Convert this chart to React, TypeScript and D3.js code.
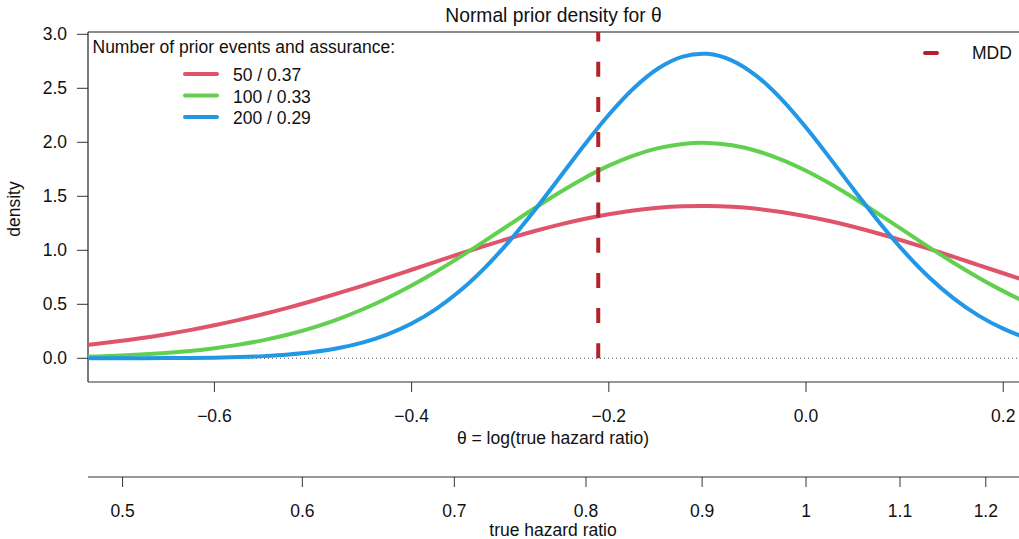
import React, { useEffect } from "react";
import * as d3 from "d3";

// theta grid (log hazard ratio) where densities were read
const thetaGrid = [
  -0.75, -0.725, -0.7, -0.675, -0.65, -0.625, -0.6, -0.575, -0.55, -0.525,
  -0.5, -0.475, -0.45, -0.425, -0.4, -0.375, -0.35, -0.325, -0.3, -0.275,
  -0.25, -0.225, -0.2, -0.175, -0.15, -0.125, -0.1, -0.075, -0.05, -0.025,
  0.0, 0.025, 0.05, 0.075, 0.1, 0.125, 0.15, 0.175, 0.2, 0.225, 0.25,
];

const dens50 = [
  0.105, 0.128, 0.1547, 0.1856, 0.2209, 0.2609, 0.3057, 0.3554, 0.41, 0.4692,
  0.5329, 0.6005, 0.6714, 0.7448, 0.8199, 0.8954, 0.9703, 1.0434, 1.1132, 1.1783,
  1.2376, 1.2898, 1.3337, 1.3684, 1.393, 1.4071, 1.4102, 1.4024, 1.3837, 1.3547,
  1.316, 1.2684, 1.213, 1.151, 1.0837, 1.0124, 0.9384, 0.863, 0.7876, 0.7131, 0.6406,
];

const dens100 = [
  0.01106, 0.01643, 0.024, 0.03454, 0.04893, 0.06823, 0.09368, 0.1266, 0.1685, 0.2208,
  0.2847, 0.3615, 0.4519, 0.5562, 0.6739, 0.8038, 0.944, 1.0914, 1.2423, 1.392,
  1.5357, 1.668, 1.7834, 1.8774, 1.9456, 1.9851, 1.994, 1.9718, 1.9197, 1.84,
  1.7363, 1.613, 1.4752, 1.3283, 1.1774, 1.0275, 0.8828, 0.7468, 0.6218, 0.5098, 0.4115,
];

const dens200 = [
  0.00009, 0.00019, 0.00041, 0.00085, 0.0017, 0.0033, 0.00622, 0.01137, 0.02013, 0.03455,
  0.05747, 0.09267, 0.1448, 0.2193, 0.322, 0.4581, 0.6318, 0.8446, 1.0942, 1.3737,
  1.6721, 1.9725, 2.255, 2.4988, 2.6838, 2.7938, 2.8189, 2.7566, 2.6128, 2.4003,
  2.1373, 1.8445, 1.5428, 1.2508, 0.9829, 0.7486, 0.5526, 0.3953, 0.2742, 0.1843, 0.12,
];

const seriesLabels = ["50 / 0.37", "100 / 0.33", "200 / 0.29"];
const seriesColors = ["#DF536B", "#61D04F", "#2297E6"];
const seriesValues = [dens50, dens100, dens200];

const mddHazardRatio = 0.81;
const thetaTicks = [-0.6, -0.4, -0.2, 0.0, 0.2];
const hrTicks = [0.5, 0.6, 0.7, 0.8, 0.9, 1, 1.1, 1.2];
const densityTicks = [0, 0.5, 1, 1.5, 2, 2.5, 3];

const W = 1019;
const H = 539;
const font = "'Liberation Sans', Arial, Helvetica, sans-serif";
const fs = 17.5;

export default function App() {
  useEffect(() => {
    document.body.style.margin = "0";
    document.body.style.overflow = "hidden";
  }, []);

  const left = 88;
  const top = 32;
  const bottom = 382;
  const right = W;

  const x = d3.scaleLinear().domain([-0.7282, 0.216]).range([left, right]);
  const y = d3.scaleLinear().domain([0, 3]).range([358.3, 34.3]);

  const line = d3
    .line<[number, number]>()
    .x((d) => x(d[0]))
    .y((d) => y(d[1]))
    .curve(d3.curveCatmullRom.alpha(0.5));

  const mddX = x(Math.log(mddHazardRatio));
  const axis2Y = 477;
  const midX = 553;

  return (
    <svg width={W} height={H} style={{ display: "block", background: "#fff" }} fontFamily={font}>
      <defs>
        <clipPath id="plotClip">
          <rect x={left} y={top} width={right - left} height={bottom - top} />
        </clipPath>
      </defs>

      {/* title */}
      <text x={553.5} y={21.7} textAnchor="middle" fontSize={19.3} fill="#111">
        Normal prior density for θ
      </text>

      {/* box lines */}
      <line x1={left} x2={right} y1={top} y2={top} stroke="#666" strokeWidth={1.5} />
      <line x1={left} x2={left} y1={top} y2={bottom} stroke="#222" strokeWidth={1.2} />
      <line x1={left} x2={right} y1={bottom} y2={bottom} stroke="#333" strokeWidth={1.2} />

      {/* y axis */}
      {densityTicks.map((t) => (
        <g key={"yt" + t}>
          <line x1={left - 11} x2={left} y1={y(t)} y2={y(t)} stroke="#333" strokeWidth={1} />
          <text x={67} y={y(t) + 6} textAnchor="end" fontSize={fs} fill="#111">
            {d3.format(".1f")(t)}
          </text>
        </g>
      ))}
      <text
        transform={`translate(20,209) rotate(-90)`}
        textAnchor="middle"
        fontSize={fs}
        fill="#111"
      >
        density
      </text>

      {/* zero reference */}
      <line
        x1={left}
        x2={right}
        y1={y(0)}
        y2={y(0)}
        stroke="#555"
        strokeWidth={1}
        strokeDasharray="1,3"
      />

      {/* curves */}
      <g clipPath="url(#plotClip)">
        {seriesValues.map((vals, i) => (
          <path
            key={seriesLabels[i]}
            d={line(thetaGrid.map((t, j) => [t, vals[j]] as [number, number])) || ""}
            fill="none"
            stroke={seriesColors[i]}
            strokeWidth={4}
            strokeLinejoin="round"
          />
        ))}
        <line
          x1={mddX}
          x2={mddX}
          y1={y(0)}
          y2={top}
          stroke="#B2222B"
          strokeWidth={4}
          strokeDasharray="15,20.2"
        />
      </g>

      {/* theta axis */}
      {thetaTicks.map((t) => (
        <g key={"xt" + t}>
          <line x1={x(t)} x2={x(t)} y1={bottom} y2={bottom + 10} stroke="#333" strokeWidth={1} />
          <text x={x(t)} y={421.5} textAnchor="middle" fontSize={fs} fill="#111">
            {d3.format(".1f")(t).replace("-", "\u2212")}
          </text>
        </g>
      ))}
      <text x={midX} y={444} textAnchor="middle" fontSize={fs} fill="#111">
        θ = log(true hazard ratio)
      </text>

      {/* hazard ratio axis */}
      <line x1={left} x2={right} y1={axis2Y} y2={axis2Y} stroke="#333" strokeWidth={1.2} />
      {hrTicks.map((t) => (
        <g key={"hr" + t}>
          <line
            x1={x(Math.log(t))}
            x2={x(Math.log(t))}
            y1={axis2Y}
            y2={axis2Y + 10}
            stroke="#333"
            strokeWidth={1}
          />
          <text x={x(Math.log(t))} y={517} textAnchor="middle" fontSize={fs} fill="#111">
            {String(t)}
          </text>
        </g>
      ))}
      <text x={midX} y={536} textAnchor="middle" fontSize={fs} fill="#111">
        true hazard ratio
      </text>

      {/* legend: series */}
      <text x={92.5} y={52.5} fontSize={fs} fill="#111">
        Number of prior events and assurance:
      </text>
      {seriesLabels.map((lab, i) => (
        <g key={"lg" + lab}>
          <line
            x1={185}
            x2={217}
            y1={74 + i * 21.5}
            y2={74 + i * 21.5}
            stroke={seriesColors[i]}
            strokeWidth={4}
            strokeLinecap="round"
          />
          <text x={233} y={81 + i * 21.5} fontSize={fs} fill="#111">
            {lab}
          </text>
        </g>
      ))}

      {/* legend: MDD */}
      <line x1={925} x2={937} y1={53} y2={53} stroke="#B2222B" strokeWidth={4} strokeLinecap="round" />
      <text x={972} y={59} fontSize={fs} fill="#111">
        MDD
      </text>
    </svg>
  );
}
